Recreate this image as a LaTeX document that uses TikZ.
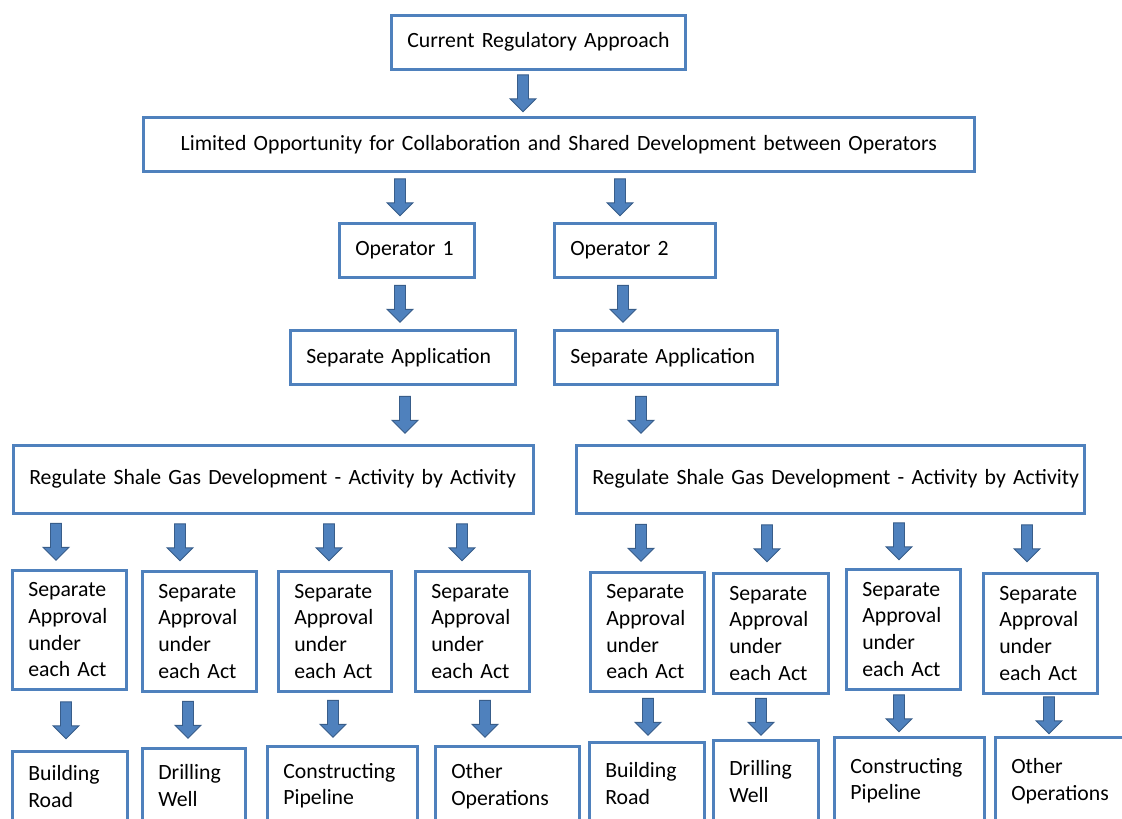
\documentclass[tikz,border=0pt]{standalone}
\usepackage{fontspec}
\setmainfont{Carlito}
\usetikzlibrary{calc}
\definecolor{boxblue}{RGB}{79,129,189}
\definecolor{arrowline}{RGB}{56,93,138}
\tikzset{
  box/.style={draw=boxblue, line width=2.6pt, fill=white, anchor=north west, align=left, inner xsep=16pt, inner ysep=0pt},
  % block arrow, centred in the gap between two boxes, at x = #1
  blk/.style={fill=boxblue, draw=arrowline, line width=0.9pt, line join=miter,
    to path={let \p1=($(\tikztostart.south)!.5!(\tikztotarget.north)$) in
      (#1*1pt-5.5pt,\y1+18.5pt) -- (#1*1pt+5.5pt,\y1+18.5pt) -- (#1*1pt+5.5pt,\y1-5.5pt)
      -- (#1*1pt+13pt,\y1-5.5pt) -- (#1*1pt,\y1-18.5pt) -- (#1*1pt-13pt,\y1-5.5pt)
      -- (#1*1pt-5.5pt,\y1-5.5pt) -- cycle}}
}
\begin{document}
\begin{tikzpicture}[x=1pt, y=-1pt, font=\fontsize{21.75}{26.8}\selectfont]
\clip (0,0) rectangle (1122,819);
\node[box, minimum width=294pt, minimum height=54pt, text width=262pt] (cur) at (390,14) {\mbox{Current Regulatory Approach}};
\node[box, minimum width=831pt, minimum height=54pt, text width=799pt, align=center] (lim) at (142,116) {\mbox{Limited Opportunity for Collaboration and Shared Development between Operators}};
\node[box, minimum width=135pt, minimum height=54pt, text width=103pt] (op1) at (338,222) {\mbox{Operator 1}};
\node[box, minimum width=161pt, minimum height=54pt, text width=129pt] (op2) at (553,222) {\mbox{Operator 2}};
\node[box, minimum width=225pt, minimum height=54pt, text width=193pt] (sa1) at (289,329) {\mbox{Separate Application}};
\node[box, minimum width=223pt, minimum height=54pt, text width=191pt] (sa2) at (553,329) {\mbox{Separate Application}};
\node[box, minimum width=520pt, minimum height=68pt, text width=488pt] (reg1) at (12,444) {\mbox{Regulate Shale Gas Development - Activity by Activity}};
\node[box, minimum width=508pt, minimum height=68pt, text width=476pt] (reg2) at (575,444) {\mbox{Regulate Shale Gas Development - Activity by Activity}};
% approvals
\foreach \i/\cx/\cy/\w/\h [evaluate=\w as \t using \w-32] in {1/11/569/114/119, 2/141/570/114/120, 3/277/570/113/120, 4/414/570/114/120,
    5/589/571/114/119, 6/712/572/115/120, 7/845/568/114/120, 8/982/572/114/120}
  \node[box, minimum width=\w pt, minimum height=\h pt, text width=\t pt] (ap\i) at (\cx,\cy) {Separate\\Approval\\under\\each Act};
% activities
\foreach \i/\cx/\cy/\w/\h/\txt [evaluate=\w as \t using \w-32] in {1/11/750/115/71/{Building\\Road}, 2/141/747/103/75/{Drilling\\Well},
    3/266/745/150/79/{Constructing\\Pipeline}, 4/434/745/144/79/{Other\\Operations}, 5/588/741/115/83/{Building\\Road},
    6/712/739/105/83/{Drilling\\Well}, 7/833/736/150/87/{Constructing\\Pipeline}, 8/994/736/141/87/{Other\\Operations}}
  \node[box, minimum width=\w pt, minimum height=\h pt, text width=\t pt] (bt\i) at (\cx,\cy) {\txt};
% arrows
\draw[blk=523] (cur) to (lim);
\draw[blk=400] (lim) to (op1);
\draw[blk=620] (lim) to (op2);
\draw[blk=400] (op1) to (sa1);
\draw[blk=623] (op2) to (sa2);
\draw[blk=405] (sa1) to (reg1);
\draw[blk=641] (sa2) to (reg2);
\foreach \i/\ax in {1/56,2/180,3/329,4/462}
  \draw[blk=\ax] (reg1) to (ap\i);
\foreach \i/\ax in {5/641,6/767,7/899,8/1027}
  \draw[blk=\ax] (reg2) to (ap\i);
\foreach \i/\ax in {1/66,2/188,3/333,4/485,5/648,6/761,7/899,8/1049}
  \draw[blk=\ax] (ap\i) to (bt\i);
\end{tikzpicture}
\end{document}
